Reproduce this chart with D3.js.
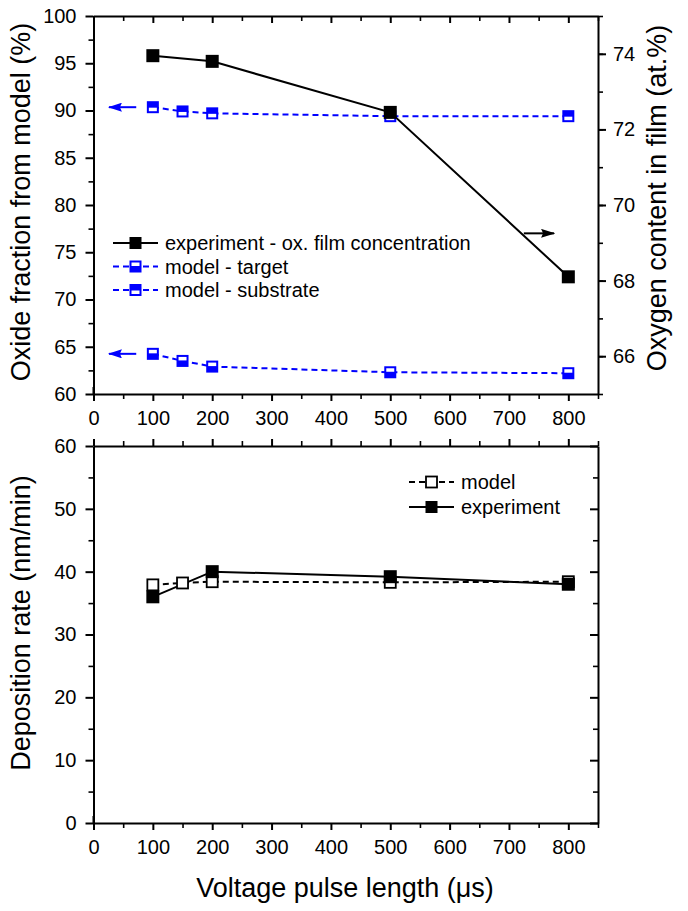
<!DOCTYPE html>
<html lang="en">
    <head>
        <meta charset="utf-8">
        <title>Oxide fraction and deposition rate vs pulse length</title>
        <style>
            body { margin: 0; background: #fff; }
            svg { font-family: Arial, "Liberation Sans", sans-serif; }
            .domain { stroke-width: 2px; }
            .tick line { stroke-width: 2px; }
            .minor .tick line { stroke-width: 1.6px; }
        </style>
        <script type="text/javascript" src="https://cdn.jsdelivr.net/npm/d3@7/dist/d3.min.js"></script>
    </head>
    <body>
        <script>
            /* data */
            var pulseModel = [100, 150, 200, 500, 800];
            var pulseExp = [100, 200, 500, 800];
            var oxygenExp = [73.95, 73.8, 72.45, 68.1];      /* at.%, right axis */
            var fracTarget = [90.35, 89.9, 89.7, 89.4, 89.4]; /* %, left axis */
            var fracSubstrate = [64.25, 63.5, 62.9, 62.3, 62.2];
            var rateModel = [37.9, 38.2, 38.4, 38.3, 38.4];   /* nm/min */
            var rateExp = [36.0, 40.0, 39.2, 38.0];

            var xTicks = [0, 100, 200, 300, 400, 500, 600, 700, 800];
            var xMinor = [50, 150, 250, 350, 450, 550, 650, 750, 850];
            var leftTicks = [60, 65, 70, 75, 80, 85, 90, 95, 100];
            var rightTicks = [66, 68, 70, 72, 74];
            var rateTicks = [0, 10, 20, 30, 40, 50, 60];

            var blue = "#0000ff";
            var W = 688, H = 911;

            var svg = d3.select("body").append("svg")
                .attr("width", W)
                .attr("height", H);

            /* scales */
            var x = d3.scaleLinear().domain([0, 850]).range([93.5, 598]);
            var yL = d3.scaleLinear().domain([60, 100]).range([394, 16]);
            var yR = d3.scaleLinear().domain([65, 75]).range([394, 16]);
            var yB = d3.scaleLinear().domain([0, 60]).range([823, 446]);

            function range(a, b, s) { return d3.range(a, b + 0.001, s); }

            /* helper for major + minor ticks */
            function drawAxis(axisFn, scale, major, minor, size, minorSize, pad, labels, tr) {
                var g = svg.append("g").attr("transform", tr);
                g.append("g").attr("class", "minor")
                    .call(axisFn(scale).tickValues(minor).tickSize(minorSize).tickSizeOuter(0).tickFormat(""));
                var a = axisFn(scale).tickValues(major).tickSize(size).tickSizeOuter(0).tickPadding(pad);
                if (!labels) a.tickFormat("");
                var m = g.append("g").call(a);
                m.selectAll("text").style("font-size", "20px").attr("fill", "#000");
                g.selectAll(".minor .domain").remove();
                return g;
            }

            /* ---------- top panel ---------- */
            drawAxis(d3.axisTop, x, xTicks, xMinor, -7, -5, 0, false, "translate(0,16)");
            drawAxis(d3.axisBottom, x, xTicks, xMinor, 7, 5, 10, true, "translate(0,394)");
            drawAxis(d3.axisLeft, yL, leftTicks, range(62.5, 97.5, 5), 8, 5, 9, true, "translate(93.5,0)");
            drawAxis(d3.axisRight, yR, rightTicks, range(65, 75, 1), 8, 5, 7, true, "translate(598,0)");
            /* short tick crossing at the origin */
            svg.append("line").attr("x1", x(0)).attr("x2", x(0)).attr("y1", 387).attr("y2", 394)
                .attr("stroke", "#000").attr("stroke-width", 2);

            var lineL = d3.line().x(function(d) { return x(d[0]); }).y(function(d) { return yL(d[1]); });
            var lineR = d3.line().x(function(d) { return x(d[0]); }).y(function(d) { return yR(d[1]); });

            var targetPts = d3.zip(pulseModel, fracTarget);
            var substratePts = d3.zip(pulseModel, fracSubstrate);
            var oxyPts = d3.zip(pulseExp, oxygenExp);

            svg.append("path").datum(targetPts).attr("d", lineL)
                .attr("fill", "none").attr("stroke", blue).attr("stroke-width", 2).attr("stroke-dasharray", "6,4");
            svg.append("path").datum(substratePts).attr("d", lineL)
                .attr("fill", "none").attr("stroke", blue).attr("stroke-width", 2).attr("stroke-dasharray", "6,4");
            svg.append("path").datum(oxyPts).attr("d", lineR)
                .attr("fill", "none").attr("stroke", "#000").attr("stroke-width", 2);

            /* half-filled blue square: white stripe at top or bottom */
            function halfSquare(g, cx, cy, whiteTop) {
                var s = 12;
                g.append("rect").attr("x", cx - s / 2).attr("y", cy - s / 2).attr("width", s).attr("height", s)
                    .attr("fill", blue);
                g.append("rect").attr("x", cx - s / 2 + 2).attr("width", s - 4).attr("height", 3.5)
                    .attr("y", whiteTop ? cy - s / 2 + 2 : cy + s / 2 - 5.5)
                    .attr("fill", "#fff");
            }
            function blackSquare(g, cx, cy, s, filled) {
                g.append("rect").attr("x", cx - s / 2).attr("y", cy - s / 2).attr("width", s).attr("height", s)
                    .attr("fill", filled ? "#000" : "#fff").attr("stroke", "#000").attr("stroke-width", filled ? 0 : 1.8);
            }

            var mk = svg.append("g");
            targetPts.forEach(function(d) { halfSquare(mk, x(d[0]), yL(d[1]), false); });
            substratePts.forEach(function(d) { halfSquare(mk, x(d[0]), yL(d[1]), true); });
            oxyPts.forEach(function(d) { blackSquare(mk, x(d[0]), yR(d[1]), 13, true); });

            /* arrows pointing to the axes */
            svg.append("defs").selectAll("marker").data([["ab", blue], ["ak", "#000"]]).enter()
                .append("marker").attr("id", function(d) { return d[0]; })
                .attr("viewBox", "0 0 14 9").attr("refX", 13).attr("refY", 4.5)
                .attr("markerWidth", 14).attr("markerHeight", 9).attr("markerUnits", "userSpaceOnUse")
                .attr("orient", "auto")
                .append("path").attr("d", "M0,0L14,4.5L0,9L2,4.5Z").attr("fill", function(d) { return d[1]; });
            function arrow(x1, x2, y, col, id) {
                svg.append("line").attr("x1", x1).attr("x2", x2).attr("y1", y).attr("y2", y)
                    .attr("stroke", col).attr("stroke-width", 2).attr("marker-end", "url(#" + id + ")");
            }
            arrow(x(72), x(26), yL(fracTarget[0]), blue, "ab");
            arrow(x(72), x(26), yL(fracSubstrate[0]), blue, "ab");
            arrow(x(725), x(776), yR(69.25), "#000", "ak");

            /* legend top */
            var legTop = [
                {label: "experiment - ox. film concentration", kind: "exp"},
                {label: "model - target", kind: "tgt"},
                {label: "model - substrate", kind: "sub"}
            ];
            legTop.forEach(function(d, i) {
                var cy = 243 + i * 23.5;
                var col = d.kind == "exp" ? "#000" : blue;
                svg.append("line").attr("x1", 113).attr("x2", 158).attr("y1", cy).attr("y2", cy)
                    .attr("stroke", col).attr("stroke-width", 2)
                    .attr("stroke-dasharray", d.kind == "exp" ? null : "6,4");
                if (d.kind == "exp") blackSquare(svg, 135.5, cy, 12, true);
                else halfSquare(svg, 135.5, cy, d.kind == "tgt");
                svg.append("text").attr("x", 165).attr("y", cy + 7).style("font-size", "20px").text(d.label);
            });

            /* ---------- bottom panel ---------- */
            drawAxis(d3.axisTop, x, xTicks, xMinor, 7, 5, 0, false, "translate(0,446)");
            drawAxis(d3.axisBottom, x, xTicks, xMinor, 7, 5, 10, true, "translate(0,823)");
            drawAxis(d3.axisLeft, yB, rateTicks, range(5, 55, 10), 8, 5, 9, true, "translate(93.5,0)");
            drawAxis(d3.axisRight, yB, rateTicks, range(5, 55, 10), -8, -5, 0, false, "translate(598,0)");
            svg.append("line").attr("x1", x(0)).attr("x2", x(0)).attr("y1", 816).attr("y2", 823)
                .attr("stroke", "#000").attr("stroke-width", 2);

            var lineB = d3.line().x(function(d) { return x(d[0]); }).y(function(d) { return yB(d[1]); });
            var modelPts = d3.zip(pulseModel, rateModel);
            var expPts = d3.zip(pulseExp, rateExp);

            svg.append("path").datum(modelPts).attr("d", lineB)
                .attr("fill", "none").attr("stroke", "#000").attr("stroke-width", 2).attr("stroke-dasharray", "6,4");
            svg.append("path").datum(expPts).attr("d", lineB)
                .attr("fill", "none").attr("stroke", "#000").attr("stroke-width", 2);
            modelPts.forEach(function(d) { blackSquare(svg, x(d[0]), yB(d[1]), 11, false); });
            expPts.forEach(function(d) { blackSquare(svg, x(d[0]), yB(d[1]), 13, true); });

            /* legend bottom */
            [["model", false], ["experiment", true]].forEach(function(d, i) {
                var cy = 482 + i * 25;
                svg.append("line").attr("x1", 409).attr("x2", 454).attr("y1", cy).attr("y2", cy)
                    .attr("stroke", "#000").attr("stroke-width", 2)
                    .attr("stroke-dasharray", d[1] ? null : "6,4");
                blackSquare(svg, 431.5, cy, d[1] ? 12 : 11, d[1]);
                svg.append("text").attr("x", 461).attr("y", cy + 7).style("font-size", "20px").text(d[0]);
            });

            /* axis titles */
            svg.append("text").attr("transform", "translate(30,202) rotate(-90)")
                .attr("text-anchor", "middle").style("font-size", "27px").text("Oxide fraction from model (%)");
            svg.append("text").attr("transform", "translate(666,198) rotate(-90)")
                .attr("text-anchor", "middle").style("font-size", "27px").text("Oxygen content in film (at.%)");
            svg.append("text").attr("transform", "translate(30,623) rotate(-90)")
                .attr("text-anchor", "middle").style("font-size", "27px").text("Deposition rate (nm/min)");
            svg.append("text").attr("x", 345).attr("y", 897)
                .attr("text-anchor", "middle").style("font-size", "27px").text("Voltage pulse length (\u03bcs)");
        </script>
    </body>
</html>
